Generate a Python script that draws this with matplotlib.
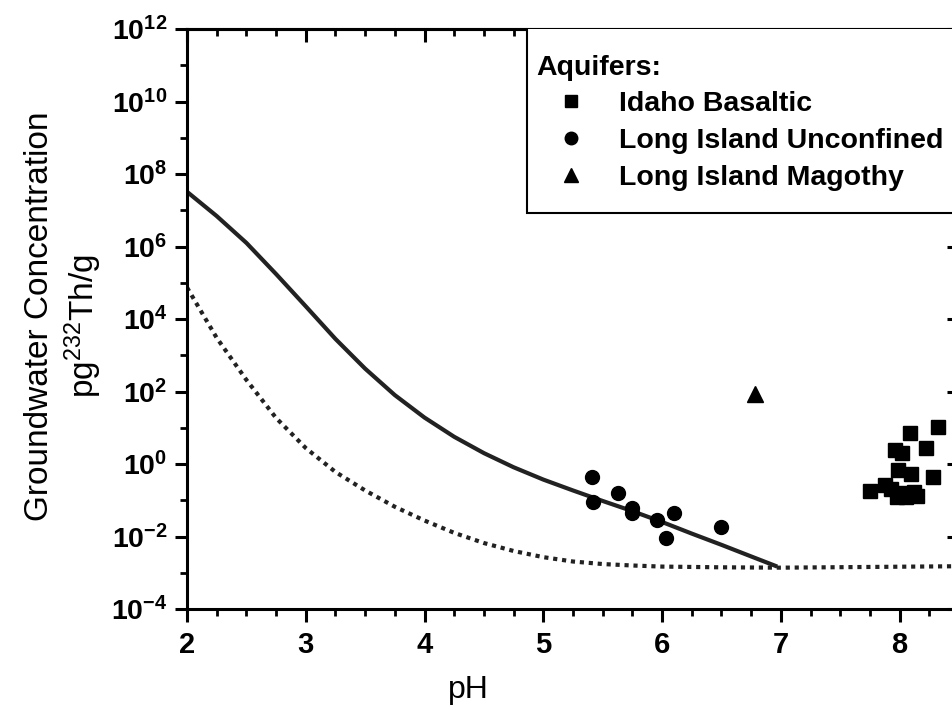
import numpy as np
import matplotlib
matplotlib.use("Agg")
import matplotlib.pyplot as plt
from matplotlib.patches import Rectangle
from matplotlib.ticker import FixedLocator, MultipleLocator, NullFormatter

plt.rcParams['font.family'] = ['Liberation Sans', 'DejaVu Sans']
plt.rcParams['mathtext.fontset'] = 'custom'
plt.rcParams['mathtext.rm'] = 'Liberation Sans'
plt.rcParams['mathtext.bf'] = 'Liberation Sans:bold'
plt.rcParams['mathtext.it'] = 'Liberation Sans:italic'

# model curves (pH, log10 concentration)
solid_ph = [2.0, 2.25, 2.5, 2.75, 3.0, 3.25, 3.5, 3.75, 4.0, 4.25, 4.5,
            4.75, 5.0, 5.25, 5.5, 5.75, 6.0, 6.25, 6.5, 6.75, 6.97]
solid_log = [7.51, 6.84, 6.10, 5.24, 4.35, 3.45, 2.63, 1.90, 1.28, 0.75, 0.30,
             -0.09, -0.43, -0.73, -1.02, -1.30, -1.60, -1.92, -2.23, -2.55, -2.83]

dotted_ph = [2.0, 2.25, 2.5, 2.75, 3.0, 3.25, 3.5, 3.75, 4.0, 4.25, 4.5,
             4.75, 5.0, 5.25, 5.5, 5.75, 6.0, 6.5, 7.0, 8.5]
dotted_log = [4.87, 3.48, 2.32, 1.27, 0.44, -0.22, -0.73, -1.18, -1.56, -1.90,
              -2.18, -2.40, -2.57, -2.69, -2.76, -2.80, -2.83, -2.85, -2.86, -2.82]

# aquifer samples
idaho_ph = [8.32, 8.09, 8.22, 7.96, 8.02, 7.99, 8.10, 8.28, 7.75, 7.88,
            7.93, 8.00, 8.12, 8.15, 8.05, 7.98]
idaho_log = [1.03, 0.85, 0.43, 0.39, 0.30, -0.17, -0.28, -0.37, -0.74, -0.58,
             -0.70, -0.79, -0.76, -0.88, -0.92, -0.90]

li_unconf_ph = [5.41, 5.42, 5.63, 5.745, 5.75, 5.96, 6.10, 6.035, 6.50]
li_unconf_log = [-0.37, -1.04, -0.81, -1.22, -1.36, -1.54, -1.36, -2.05, -1.73]

li_magothy_ph = [6.78]
li_magothy_log = [1.93]

ytick_exp = [-4, -2, 0, 2, 4, 6, 8, 10, 12]
yminor_exp = [-3, -1, 1, 3, 5, 7, 9, 11]
xtick_vals = [2, 3, 4, 5, 6, 7, 8]

fig = plt.figure(figsize=(9.53, 7.1), dpi=100)
ax = fig.add_axes([187 / 953, 101 / 710, 772 / 953, 580 / 710])

ax.plot(solid_ph, 10.0 ** np.array(solid_log), color='#222222', lw=3.0,
        solid_capstyle='butt', solid_joinstyle='round')
ax.plot(dotted_ph, 10.0 ** np.array(dotted_log), color='#222222', lw=3.0,
        linestyle=(0, (1, 1.15)))

ax.plot(idaho_ph, 10.0 ** np.array(idaho_log), 's', color='black', ms=10,
        label='Idaho Basaltic')
ax.plot(li_unconf_ph, 10.0 ** np.array(li_unconf_log), 'o', color='black',
        ms=10, label='Long Island Unconfined')
ax.plot(li_magothy_ph, 10.0 ** np.array(li_magothy_log), '^', color='black',
        ms=11, label='Long Island Magothy')

ax.set_yscale('log')
ax.set_ylim(1e-4, 1e12)
ax.set_xlim(2, 8.5)

ax.yaxis.set_major_locator(FixedLocator([10.0 ** e for e in ytick_exp]))
ax.yaxis.set_minor_locator(FixedLocator([10.0 ** e for e in yminor_exp]))
ax.yaxis.set_minor_formatter(NullFormatter())
ax.set_yticklabels([r'$\mathbf{10^{%d}}$' % e for e in ytick_exp])

ax.xaxis.set_minor_locator(MultipleLocator(0.25))
ax.set_xticks(xtick_vals)
ax.set_xticklabels([str(v) for v in xtick_vals], fontweight='bold', fontsize=21)

for s in ax.spines.values():
    s.set_linewidth(2.2)

ax.tick_params(axis='both', which='major', length=9, width=2.2)
ax.tick_params(axis='y', which='major', labelsize=20.5)
ax.tick_params(axis='both', which='minor', length=5, width=2.0)
ax.tick_params(axis='x', which='both', direction='out', top=False, pad=7)
ax.tick_params(axis='y', which='both', direction='out', right=False, pad=5)

# inward ticks on the top and right edges
axt = ax.secondary_xaxis('top')
axt.xaxis.set_major_locator(MultipleLocator(1))
axt.xaxis.set_minor_locator(MultipleLocator(0.25))
axt.tick_params(which='major', direction='in', length=9, width=2.2, labeltop=False)
axt.tick_params(which='minor', direction='in', length=5, width=2.0)
axt.spines['top'].set_linewidth(2.2)

axr = ax.secondary_yaxis('right')
axr.yaxis.set_major_locator(FixedLocator([10.0 ** e for e in ytick_exp]))
axr.yaxis.set_minor_locator(FixedLocator([10.0 ** e for e in yminor_exp]))
axr.tick_params(which='major', direction='in', length=9, width=2.2, labelright=False)
axr.tick_params(which='minor', direction='in', length=5, width=2.0, labelright=False)

# legend box
ax.add_patch(Rectangle((0.44, 0.683), 0.7, 0.4, transform=ax.transAxes,
                       facecolor='white', edgecolor='black', lw=1.5,
                       zorder=4, clip_on=True))
leg = ax.legend(loc='upper left', bbox_to_anchor=(0.452, 0.956),
                title='Aquifers:', alignment='left',
                prop={'weight': 'bold', 'size': 20.5},
                title_fontproperties={'weight': 'bold', 'size': 20.5},
                frameon=False, borderaxespad=0, borderpad=0,
                handlelength=2.45, handletextpad=0.45, labelspacing=0.38,
                markerscale=0.9)
leg.set_zorder(5)

fig.text(40 / 953, 1 - 316 / 710, 'Groundwater Concentration', rotation=90,
         ha='center', va='center', fontsize=24)
fig.text(83 / 953, 1 - 326 / 710, r'pg$^{232}$Th/g', rotation=90,
         ha='center', va='center', fontsize=24)
fig.text(468 / 953, 1 - 690 / 710, 'pH', ha='center', va='center', fontsize=23)

fig.savefig('out.png', dpi=100)
